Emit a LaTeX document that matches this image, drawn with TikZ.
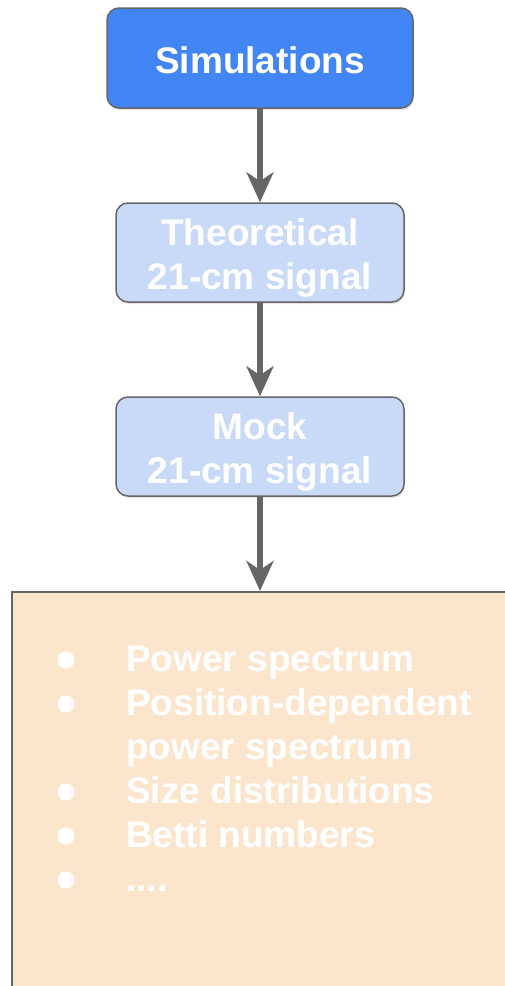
\documentclass[tikz,border=0pt]{standalone}
\usepackage{fontspec}
\setmainfont{Liberation Sans}
\usetikzlibrary{arrows.meta,shadows}
\definecolor{simblue}{HTML}{4285F4}
\definecolor{lightblue}{HTML}{C9DAF8}
\definecolor{peach}{HTML}{FCE5CD}
\definecolor{edgegray}{HTML}{666666}
\begin{document}
\begin{tikzpicture}[x=1pt,y=1pt,
  box/.style={draw=edgegray, line width=1.5pt, rounded corners=12pt, inner sep=0pt,
    drop shadow={opacity=0.2, shadow xshift=1pt, shadow yshift=-2pt}},
  boxtext/.style={text=white, font=\fontsize{37}{44}\selectfont\bfseries, anchor=base, inner sep=0pt},
  flow/.style={draw=edgegray, line width=6pt, -{Stealth[length=30pt,width=27pt,inset=9pt]}},
  item/.style={text=white, font=\fontsize{37}{44}\selectfont\bfseries, anchor=base west, inner sep=0pt},
  dot/.style={circle, fill=white, minimum size=17pt, inner sep=0pt}]
\useasboundingbox (0,0) rectangle (504,-986);
\node[box, fill=simblue, minimum width=306pt, minimum height=100pt] (sim) at (260,-58) {};
\node[box, fill=lightblue, minimum width=288pt, minimum height=99pt] (theo) at (260,-252.5) {};
\node[box, fill=lightblue, minimum width=288pt, minimum height=99pt] (mock) at (260,-446.5) {};
\node[draw=edgegray, line width=1.5pt, fill=peach, minimum width=520pt, minimum height=410pt, anchor=north west, inner sep=0pt,
  drop shadow={opacity=0.2, shadow xshift=1pt, shadow yshift=-2pt}] (feat) at (11,-591) {};
\node[boxtext] (simt) at (260,-73) {Simulations};
\node[boxtext] (theot1) at (260,-245) {Theoretical};
\node[boxtext] (theot2) at (260,-289) {21-cm signal};
\node[boxtext] (mockt1) at (260,-439) {Mock};
\node[boxtext] (mockt2) at (260,-483) {21-cm signal};
\draw[flow] (sim) -- (theo);
\draw[flow] (theo) -- (mock);
\draw[flow] (mock.south) -- (mock.south |- feat.north);
\node[dot] (b1) at (66,-660) {};
\node[dot] (b2) at (66,-704) {};
\node[dot] (b3) at (66,-792) {};
\node[dot] (b4) at (66,-836) {};
\node[dot] (b5) at (66,-880) {};
\node[item] (t1) at (126,-671) {Power spectrum};
\node[item] (t2) at (126,-715) {Position-dependent};
\node[item] (t2b) at (126,-759) {power spectrum};
\node[item] (t3) at (126,-803) {Size distributions};
\node[item] (t4) at (126,-847) {Betti numbers};
\node[item] (t5) at (126,-891) {....};
\end{tikzpicture}
\end{document}
